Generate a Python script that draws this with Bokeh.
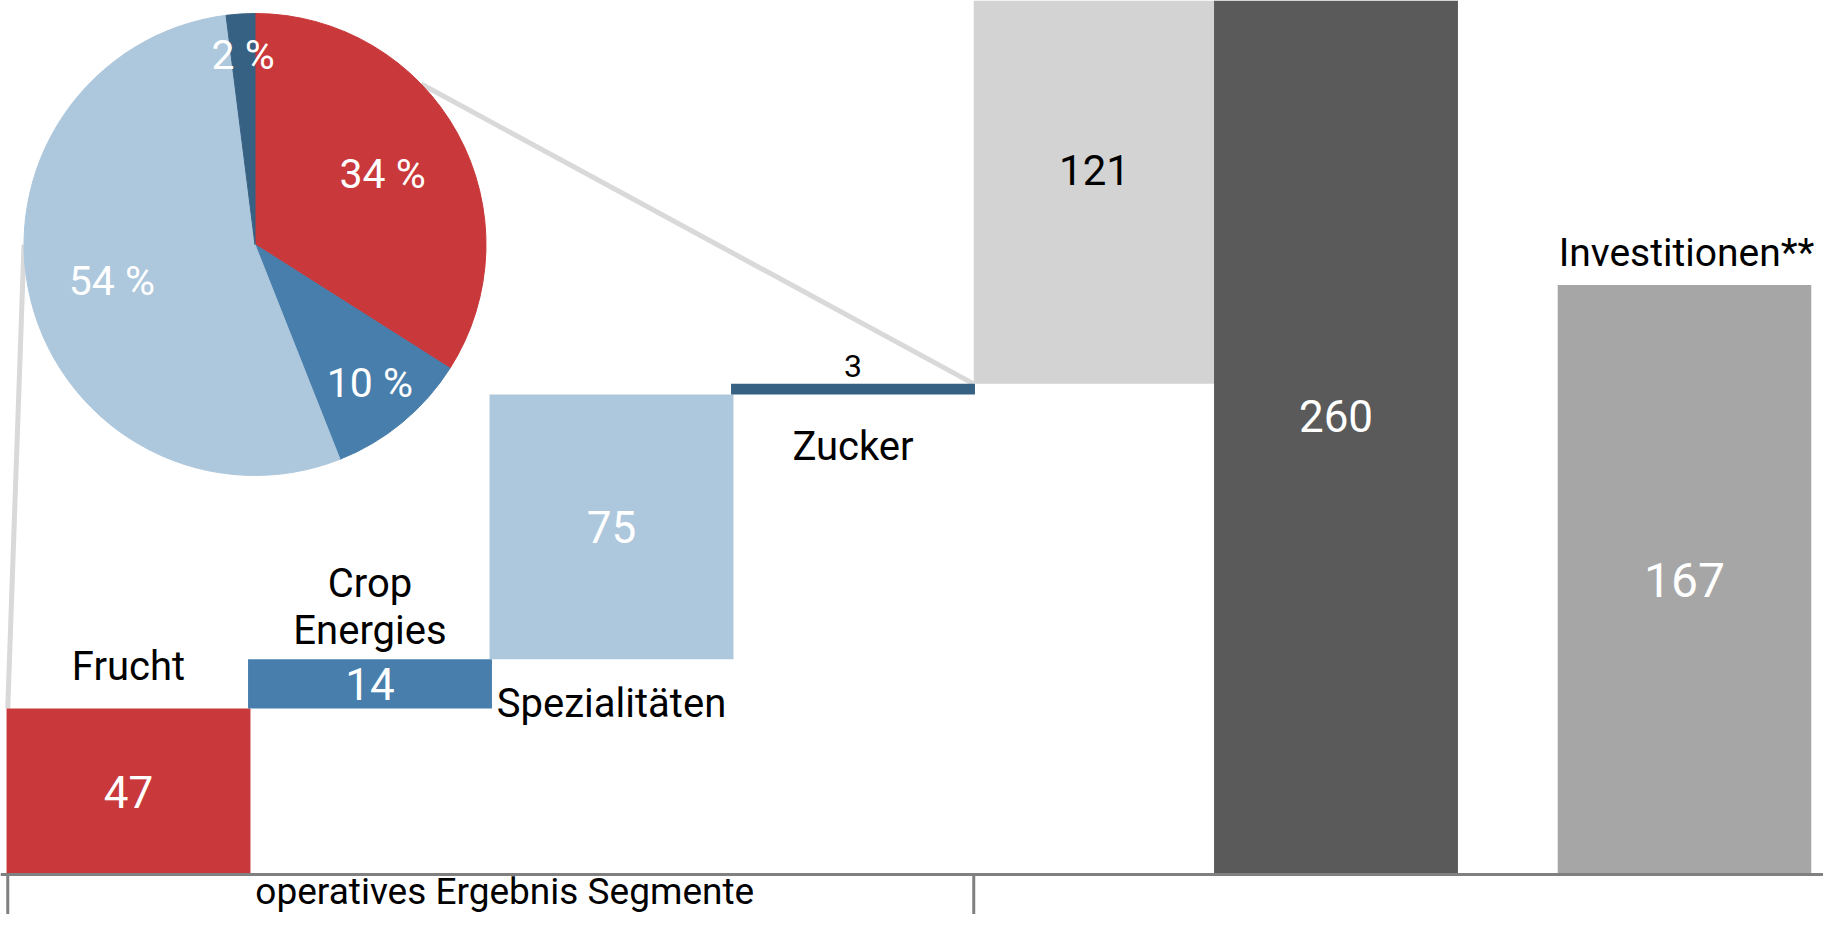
import numpy as np
from bokeh.plotting import figure
from bokeh.models import Range1d
from bokeh.embed import file_html
from bokeh.resources import INLINE
from bokeh.core.properties import value

# ---------------- data ----------------
segment_names = ["Frucht", "Crop\nEnergies", "Spezialitäten", "Zucker"]
segment_values = [47, 14, 75, 3]
other_value = 121
total_value = 260
invest_name = "Investitionen**"
invest_value = 167
pie_shares = [34, 10, 54, 2]
pie_labels = ["34 %", "10 %", "54 %", "2 %"]
group_label = "operatives Ergebnis Segmente"

# ---------------- layout / style ----------------
W, H = 1823, 914
PX_SLOT = 241.5          # px per bar slot
PX_UNIT = 3.53           # px per value unit
X0_PX = 128              # canvas x of slot 0 centre
BASE_PX = 874            # canvas y of value 0
FONT = value("Roboto")

seg_colors = ["#c9383a", "#487eab", "#adc7dc", "#376183"]
other_color = "#d3d3d3"
total_color = "#5a5a5a"
invest_color = "#a6a6a6"
axis_color = "#808080"
conn_color = "#d9d9d9"

slots = [0, 1, 2, 3]
other_slot, total_slot, invest_slot = 4, 5, 6.443

x_start = -X0_PX / PX_SLOT
x_end = (W - X0_PX) / PX_SLOT
y_start = -(H - BASE_PX) / PX_UNIT
y_end = BASE_PX / PX_UNIT

p = figure(width=W, height=H, output_backend="svg", toolbar_location=None,
           x_range=Range1d(x_start, x_end), y_range=Range1d(y_start, y_end),
           x_axis_location=None, y_axis_location=None, min_border=0)
p.grid.visible = False
p.outline_line_color = None
p.background_fill_color = "white"
p.border_fill_color = "white"

# waterfall geometry
cum = np.cumsum([0] + segment_values)
seg_bottom = cum[:-1]
seg_top = cum[1:]
seg_sum = cum[-1]

# pie geometry
pie_cx = (254.5 - X0_PX) / PX_SLOT
pie_cy = (BASE_PX - 244) / PX_UNIT
pie_r = 231
shares = np.array(pie_shares, dtype=float) / sum(pie_shares)
cs = np.concatenate([[0], np.cumsum(shares)])
start_a = np.pi / 2 - 2 * np.pi * cs[:-1]
end_a = np.pi / 2 - 2 * np.pi * cs[1:]

def pie_point(theta_cw_deg, frac=1.0):
    t = np.radians(theta_cw_deg)
    return (pie_cx + frac * pie_r * np.sin(t) / PX_SLOT,
            pie_cy + frac * pie_r * np.cos(t) / PX_UNIT)

# connector lines
lx, ly = pie_point(270)
rx, ry = pie_point(46)
p.segment(x0=[lx, rx], y0=[ly, ry], x1=[slots[0] - 0.5, slots[3] + 0.5],
          y1=[seg_top[0], seg_sum], line_color=conn_color, line_width=5)

# bars
p.vbar(x=slots, bottom=seg_bottom, top=seg_top, width=1.01,
       fill_color=seg_colors, line_color=None)
p.vbar(x=[other_slot], bottom=[seg_sum], top=[seg_sum + other_value], width=1.0,
       fill_color=other_color, line_color=None)
p.vbar(x=[total_slot], bottom=[0], top=[total_value], width=1.01,
       fill_color=total_color, line_color=None)
p.vbar(x=[invest_slot], bottom=[0], top=[invest_value], width=1.05,
       fill_color=invest_color, line_color=None)

# pie
p.wedge(x=pie_cx, y=pie_cy, radius=pie_r, radius_units="screen",
        start_angle=start_a, end_angle=end_a, direction="clock",
        fill_color=seg_colors, line_color=seg_colors, line_width=1)

# pie labels
mid_cw = 360 * (cs[:-1] + cs[1:]) / 2
label_frac = [0.63, 0.78, 0.64, 0.82]
plx, ply = [], []
for a, f in zip(mid_cw, label_frac):
    x, y = pie_point(a, f)
    plx.append(x)
    ply.append(y)
p.text(x=plx, y=ply, text=pie_labels, text_color="white", text_font=FONT,
       text_font_size="41px", text_align="center", text_baseline="middle")

# baseline + bracket
p.segment(x0=[x_start], y0=[0], x1=[x_end], y1=[0], line_color=axis_color, line_width=3)
p.segment(x0=[slots[0] - 0.5, slots[3] + 0.5], y0=[0, 0],
          x1=[slots[0] - 0.5, slots[3] + 0.5], y1=[y_start, y_start],
          line_color=axis_color, line_width=3)

# value labels inside bars
p.text(x=slots[:3], y=(seg_bottom[:3] + seg_top[:3]) / 2,
       text=[str(v) for v in segment_values[:3]], text_color="white", text_font=FONT,
       text_font_size="44px", text_align="center", text_baseline="middle")
p.text(x=[slots[3]], y=[seg_top[3]], y_offset=-18, text=[str(segment_values[3])],
       text_color="black", text_font=FONT, text_font_size="32px",
       text_align="center", text_baseline="middle")
p.text(x=[other_slot], y=[seg_sum + other_value / 2], text=[str(other_value)],
       text_color="black", text_font=FONT, text_font_size="42px",
       text_align="center", text_baseline="middle")
p.text(x=[total_slot], y=[total_value / 2], text=[str(total_value)],
       text_color="white", text_font=FONT, text_font_size="44px",
       text_align="center", text_baseline="middle")
p.text(x=[invest_slot], y=[invest_value / 2], text=[str(invest_value)],
       text_color="white", text_font=FONT, text_font_size="48px",
       text_align="center", text_baseline="middle")

# category labels
cat_x = [slots[0], slots[1], slots[2], slots[3]]
cat_y = [seg_top[0], seg_top[1], seg_bottom[2], seg_bottom[3]]
cat_off = [-42, -52, 44, 52]
p.text(x=cat_x, y=cat_y, y_offset=cat_off, text=segment_names, text_color="black",
       text_font=FONT, text_font_size="40px", text_align="center",
       text_baseline="middle", text_line_height=1.0)
p.text(x=[invest_slot], y=[invest_value], x_offset=2, y_offset=-32, text=[invest_name],
       text_color="black", text_font=FONT, text_font_size="39px",
       text_align="center", text_baseline="middle")
p.text(x=[(slots[0] + slots[3]) / 2], y=[0], x_offset=14, y_offset=17, text=[group_label],
       text_color="black", text_font=FONT, text_font_size="37px",
       text_align="center", text_baseline="middle")

open("out.html", "w").write(file_html(p, INLINE))
